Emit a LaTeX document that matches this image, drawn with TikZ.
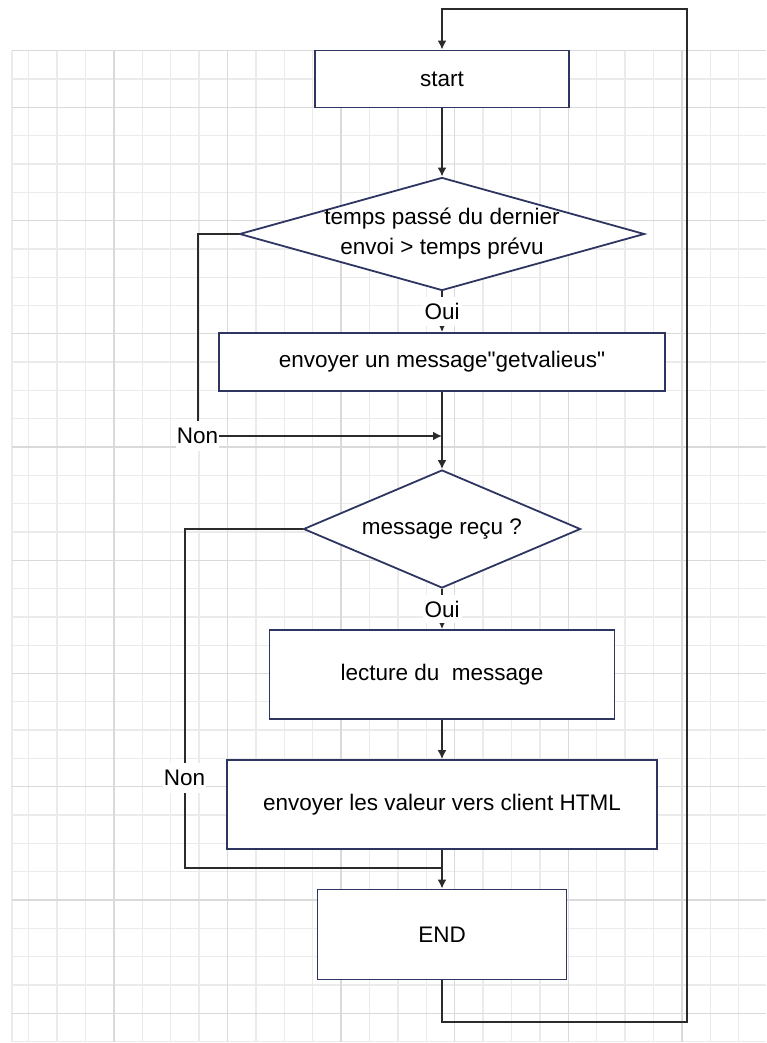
\documentclass[tikz,border=0pt]{standalone}
\usepackage{fontspec}
\setmainfont{Liberation Sans}
\usetikzlibrary{shapes.geometric,arrows.meta}

\definecolor{boxline}{HTML}{2E3560}
\definecolor{linegray}{HTML}{2B2B2B}
\definecolor{gridminor}{HTML}{EBEBEB}
\definecolor{gridmajor}{HTML}{DADADA}

\begin{document}
\begin{tikzpicture} [x=1pt, y=-1pt,
                    every node/.style={font=\fontsize{22.5}{30}\selectfont, text=black},
                    block/.style={draw=boxline, line width=1.8pt, fill=white, inner sep=0pt},
                    decision/.style={diamond, draw=boxline, line width=1.8pt, fill=white, inner sep=0pt},
                    txt/.style={align=center, inner sep=0pt},
                    tag/.style={fill=white, inner xsep=1pt, inner ysep=7pt},
                    ouitag/.style={fill=white, inner xsep=2pt, inner ysep=6pt},
                    wire/.style={draw=linegray, line width=2pt},
                    arrow/.style={wire, -{Latex[length=9pt,width=9pt]}}
                ]
                \useasboundingbox (0,0) rectangle (766,1043);
                % grille
                \foreach \i in {0,...,25}
                    \draw[gridminor, line width=1.3pt] ({28.7+28.4*\i},50.7) -- ++(0,991);
                \foreach \j in {0,...,35}
                    \draw[gridminor, line width=1.3pt] (12,{50.7+28.31*\j}) -- (766,{50.7+28.31*\j});
                \draw[gridminor, line width=1.3pt] (12,50.7) -- (12,1041.7);
                \foreach \i in {0,...,5}
                    \draw[gridmajor, line width=1.3pt] ({113.9+113.6*\i},50.7) -- ++(0,991);
                \foreach \j in {0,...,8}
                    \draw[gridmajor, line width=1.3pt] (12,{107.3+113.24*\j}) -- (766,{107.3+113.24*\j});
                \draw[gridmajor, line width=1.3pt] (12,50.7) -- (766,50.7);

                % blocs
                \node [block, minimum width=254pt, minimum height=57pt] (start) at (442,79) {start};
                \node [decision, minimum width=405pt, minimum height=113pt,
                       label={[txt]center:temps passé du dernier\\envoi > temps prévu}] (delai) at (442,234) {};
                \node [block, minimum width=446pt, minimum height=58pt] (envoi) at (442,362) {envoyer un message\textquotedbl getvalieus\textquotedbl};
                \node [decision, minimum width=277pt, minimum height=118pt,
                       label={[txt]center:message reçu ?}] (recu) at (442,529) {};
                \node [block, minimum width=345pt, minimum height=89pt] (lecture) at (442,674.5) {lecture du\ \ message};
                \node [block, minimum width=430pt, minimum height=89pt] (client) at (442,804.5) {envoyer les valeur vers client HTML};
                \node [block, minimum width=249pt, minimum height=90pt] (fin) at (442,934.5) {END};

                \node [tag] (non1) at (197.5,436) {Non};
                \node [tag] (non2) at (184.5,778) {Non};
                \coordinate (join1) at (442,436);
                \coordinate (join2) at (442,868);
                \coordinate (loopbot) at (686.7,1021.7);
                \coordinate (looptop) at (686.7,9);

                % liaisons
                \draw[arrow] (start) -- (delai);
                \draw[arrow] (delai.south) -- node[ouitag] {Oui} (envoi.north);
                \draw[arrow] (envoi) -- (recu);
                \draw[arrow] (recu.south) -- node[ouitag] {Oui} (lecture.north);
                \draw[arrow] (lecture) -- (client);
                \draw[arrow] (client) -- (fin);
                \draw[wire] (delai.west) -| (non1.north);
                \draw[arrow] (non1.east) -- (join1);
                \draw[wire] (recu.west) -| (non2.north);
                \draw[wire] (non2.south) |- (join2);
                \draw[arrow] (fin.south) |- (loopbot) -- (looptop) -| (start.north);
\end{tikzpicture}
\end{document}
